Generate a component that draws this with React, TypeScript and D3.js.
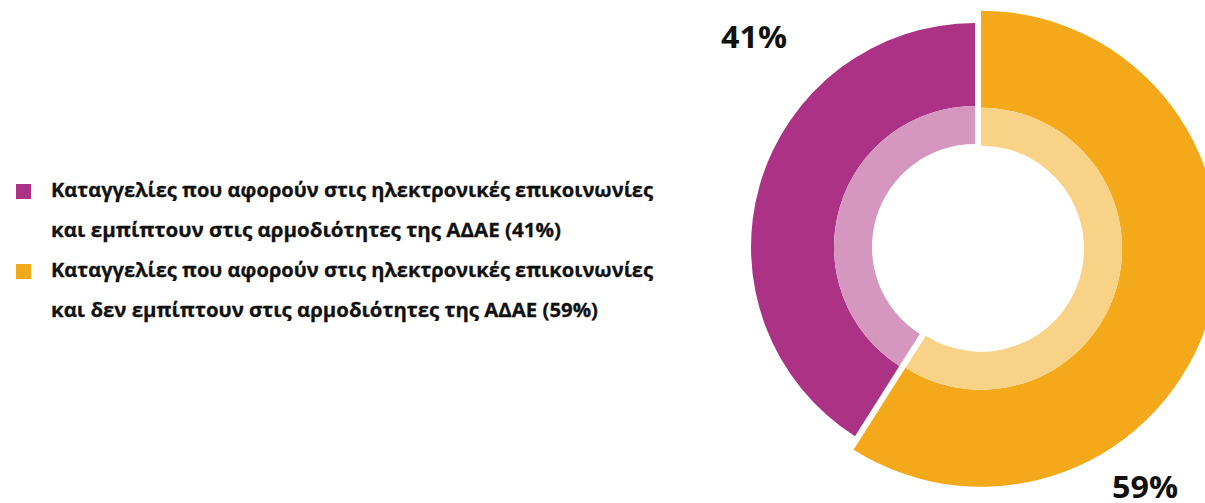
import React from "react";
import * as d3 from "d3";

const categories = [
  "Καταγγελίες που αφορούν στις ηλεκτρονικές επικοινωνίες|και εμπίπτουν στις αρμοδιότητες της ΑΔΑΕ (41%)",
  "Καταγγελίες που αφορούν στις ηλεκτρονικές επικοινωνίες|και δεν εμπίπτουν στις αρμοδιότητες της ΑΔΑΕ (59%)",
];
const values = [41, 59];
const valueLabels = ["41%", "59%"];
const darkColors = ["#AC3286", "#F4A91B"];
const lightColors = ["#D596C0", "#F8D387"];
const outerRadii = [224, 238];
const explode = [0, 6.3];

const W = 1205;
const H = 503;
const cx = 975;
const cy = 247;
const rHole = 103;
const rMid = 141;

const legendLineWidths = [[602, 510], [602, 547]];

export default function App() {
  const total = d3.sum(values);
  const start = -(values[0] / total) * 2 * Math.PI;
  const pie = d3
    .pie<number>()
    .sort(null)
    .startAngle(start)
    .endAngle(start + 2 * Math.PI);
  const arcs = pie(values);

  const labelPos = [
    { x: 754, y: 48 },
    { x: 1145, y: 498 },
  ];

  return (
    <svg
      width={W}
      height={H}
      style={{ position: "absolute", left: 0, top: 0, display: "block" }}
      fontFamily="'Open Sans', 'Noto Sans', sans-serif"
    >
      <rect width={W} height={H} fill="#fff" />
      <g transform={`translate(${cx},${cy})`}>
        {arcs.map((a, i) => {
          const mid = (a.startAngle + a.endAngle) / 2;
          const dx = explode[i] * Math.sin(mid);
          const dy = -explode[i] * Math.cos(mid);
          const outer = d3.arc<any>().innerRadius(rMid).outerRadius(outerRadii[i]);
          const inner = d3.arc<any>().innerRadius(rHole).outerRadius(rMid);
          return (
            <g key={i} transform={`translate(${dx},${dy})`}>
              <path d={outer(a) as string} fill={darkColors[i]} />
              <path d={inner(a) as string} fill={lightColors[i]} />
            </g>
          );
        })}
      </g>
      {valueLabels.map((t, i) => (
        <text
          key={t}
          x={labelPos[i].x}
          y={labelPos[i].y}
          textAnchor="middle"
          fontWeight={700}
          fontSize={30}
          fill="#111"
          textLength={66}
          lengthAdjust="spacingAndGlyphs"
        >
          {t}
        </text>
      ))}
      {categories.map((c, i) => {
        const lines = c.split("|");
        const y0 = 197 + i * 80;
        return (
          <g key={i}>
            <rect x={16} y={y0 - 13} width={15} height={15} fill={darkColors[i]} />
            {lines.map((l, j) => (
              <text
                key={j}
                x={51}
                y={y0 + j * 40}
                fontWeight={700}
                fontSize={20}
                fill="#111"
                stroke="#111"
                strokeWidth={0.3}
                textLength={legendLineWidths[i][j]}
                lengthAdjust="spacingAndGlyphs"
              >
                {l}
              </text>
            ))}
          </g>
        );
      })}
    </svg>
  );
}
